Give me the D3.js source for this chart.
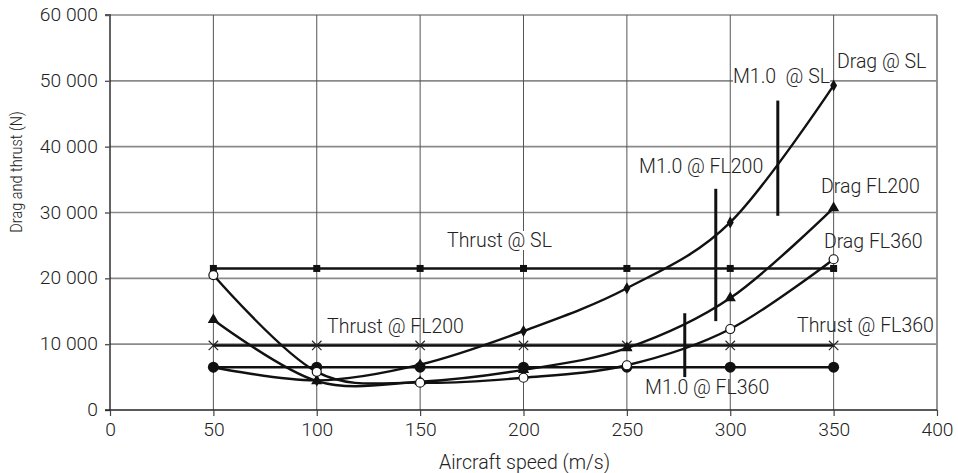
<!DOCTYPE html>
<html>
<head>
<meta charset="utf-8">
<script src="https://cdn.jsdelivr.net/npm/d3@7"></script>
<style>
  html, body { margin: 0; padding: 0; background: #fff; }
  svg text { font-family: Roboto, "Liberation Sans", Arial, sans-serif; font-weight: 300; fill: #222; }
</style>
</head>
<body>
<svg id="chart" width="958" height="473"></svg>
<script>
// ---------- data ----------
const speeds = [50, 100, 150, 200, 250, 300, 350];
const thrustSL = [21500, 21500, 21500, 21500, 21500, 21500, 21500];
const thrustFL200 = [9800, 9800, 9800, 9800, 9800, 9800, 9800];
const thrustFL360 = [6500, 6500, 6500, 6500, 6500, 6500, 6500];
const dragSL = [6500, 4500, 6900, 12000, 18500, 28500, 49300];
const dragFL200 = [13700, 4400, 4300, 6100, 9400, 17000, 30700];
const dragFL360 = [20500, 5800, 4150, 4900, 6800, 12300, 22900];

const machNames = ["M1.0 @ SL", "M1.0 @ FL200", "M1.0 @ FL360"];
const machSpeeds = [323, 293, 278];
const machLow = [29500, 13500, 5000];
const machHigh = [47000, 33600, 14700];

const xTicks = [0, 50, 100, 150, 200, 250, 300, 350, 400];
const yTicks = [0, 10000, 20000, 30000, 40000, 50000, 60000];
const yTickLabels = ["0", "10 000", "20 000", "30 000", "40 000", "50 000", "60 000"];
const xTitle = "Aircraft speed (m/s)";
const yTitle = "Drag and thrust (N)";

// annotation texts with anchor points in data space
const annoText = ["Drag @ SL", "M1.0  @ SL", "M1.0 @ FL200", "Drag FL200", "Drag FL360",
                  "Thrust @ FL360", "M1.0 @ FL360", "Thrust @ SL", "Thrust @ FL200"];
const annoSpeed = [351.6, 301.3, 255.9, 343.9, 345.3, 332.3, 258.8, 163, 105];
const annoValue = [51950, 49670, 36000, 32960, 24610, 11850, 2430, 24760, 11700];
const annoMask = [false, true, false, false, false, false, false, true, false];

// ---------- layout ----------
const svg = d3.select("#chart");
const L = 110, R = 937, T = 15, B = 410;
const x = d3.scaleLinear().domain([0, 400]).range([L, R]);
const y = d3.scaleLinear().domain([0, 60000]).range([B, T]);
const stretch = 1.1;

// grid
const grid = svg.append("g");
grid.selectAll("line.h").data(yTicks.filter(d => d > 0)).join("line")
  .attr("x1", L).attr("x2", R).attr("y1", d => y(d)).attr("y2", d => y(d))
  .attr("stroke", "#8a8a8a").attr("stroke-width", 1.6);
grid.selectAll("line.v").data(xTicks.filter(d => d > 0)).join("line")
  .attr("x1", d => x(d)).attr("x2", d => x(d)).attr("y1", T).attr("y2", B)
  .attr("stroke", d => d === 400 ? "#8a8a8a" : "#555").attr("stroke-width", d => d === 400 ? 1.8 : 1);

// axes
const yAxis = d3.axisLeft(y).tickValues(yTicks).tickSize(5).tickPadding(6)
  .tickFormat((d, i) => yTickLabels[i]);
const gy = svg.append("g").attr("transform", `translate(${L},0)`).call(yAxis);
gy.select(".domain").attr("stroke", "#222").attr("stroke-width", 1.4).attr("d", `M-5,${T}H0V${B}`);
gy.selectAll(".tick line").attr("stroke", "#555").attr("stroke-width", 1.4);
gy.selectAll(".tick text").attr("font-size", 17.5).attr("font-family", null).style("fill", "#222")
  .attr("transform", `scale(${stretch},1)`);

const xAxis = d3.axisBottom(x).tickValues(xTicks).tickSize(6).tickPadding(8);
const gx = svg.append("g").attr("transform", `translate(0,${B})`).call(xAxis);
gx.select(".domain").attr("stroke", "#222").attr("stroke-width", 1.4).attr("d", `M${L - 5},0H${R}`);
gx.selectAll(".tick line").attr("stroke", "#444").attr("stroke-width", 1.2);
gx.selectAll(".tick text").attr("font-size", 17.5).attr("font-family", null).style("fill", "#222")
  .attr("transform", `scale(${stretch},1)`);

svg.append("text").attr("x", (L + R) / 2 + 1).attr("y", 469).attr("text-anchor", "middle")
  .attr("font-size", 19.5).text(xTitle);
svg.append("text").attr("transform", `translate(21.5,172) scale(1.15,1) rotate(-90)`)
  .attr("text-anchor", "middle").attr("font-size", 14.5).text(yTitle);

// series
const line = d3.line().x(d => x(d[0])).y(d => y(d[1]));
const curve = d3.line().x(d => x(d[0])).y(d => y(d[1])).curve(d3.curveCardinal.tension(0));
const pts = arr => speeds.map((s, i) => [s, arr[i]]);

const series = [
  { vals: thrustSL, gen: line, mark: "square" },
  { vals: thrustFL200, gen: line, mark: "cross" },
  { vals: thrustFL360, gen: line, mark: "dot" },
  { vals: dragSL, gen: curve, mark: "diamond" },
  { vals: dragFL200, gen: curve, mark: "triangle" },
  { vals: dragFL360, gen: curve, mark: "ring" }
];

const gl = svg.append("g");
series.forEach(s => {
  gl.append("path").attr("d", s.gen(pts(s.vals)))
    .attr("fill", "none").attr("stroke", "#111").attr("stroke-width", 2.4);
});

const gm = svg.append("g");
series.forEach(s => {
  const p = pts(s.vals);
  const sel = gm.append("g").selectAll("g").data(p).join("g")
    .attr("transform", d => `translate(${x(d[0])},${y(d[1])})`);
  if (s.mark === "square") sel.append("rect").attr("x", -3.5).attr("y", -3.5).attr("width", 7).attr("height", 7).attr("fill", "#111");
  if (s.mark === "dot") sel.append("circle").attr("r", 5.5).attr("fill", "#111");
  if (s.mark === "ring") sel.append("circle").attr("r", 4.5).attr("fill", "#fff").attr("stroke", "#111").attr("stroke-width", 1.2);
  if (s.mark === "diamond") sel.append("path").attr("d", d3.symbol(d3.symbolDiamond, 42)()).attr("fill", "#111");
  if (s.mark === "triangle") sel.append("path").attr("d", d3.symbol(d3.symbolTriangle, 55)()).attr("fill", "#111");
  if (s.mark === "cross") sel.append("path").attr("d", d3.symbol(d3.symbolTimes, 60)()).attr("fill", "none").attr("stroke", "#222").attr("stroke-width", 1.1);
});

// Mach lines
svg.append("g").selectAll("line").data(machSpeeds).join("line")
  .attr("x1", d => x(d)).attr("x2", d => x(d))
  .attr("y1", (d, i) => y(machLow[i])).attr("y2", (d, i) => y(machHigh[i]))
  .attr("stroke", "#111").attr("stroke-width", 3);

// annotations
const ga = svg.append("g");
annoText.forEach((t, i) => {
  const g = ga.append("g");
  const tx = g.append("text").attr("x", x(annoSpeed[i])).attr("y", y(annoValue[i]))
    .attr("font-size", 19.5).attr("xml:space", "preserve").style("white-space", "pre").text(t);
  if (annoMask[i]) {
    const bb = tx.node().getBBox();
    g.insert("rect", "text").attr("x", bb.x).attr("y", bb.y + 2).attr("width", bb.width).attr("height", bb.height - 4).attr("fill", "#fff");
  }
});
</script>
</body>
</html>
